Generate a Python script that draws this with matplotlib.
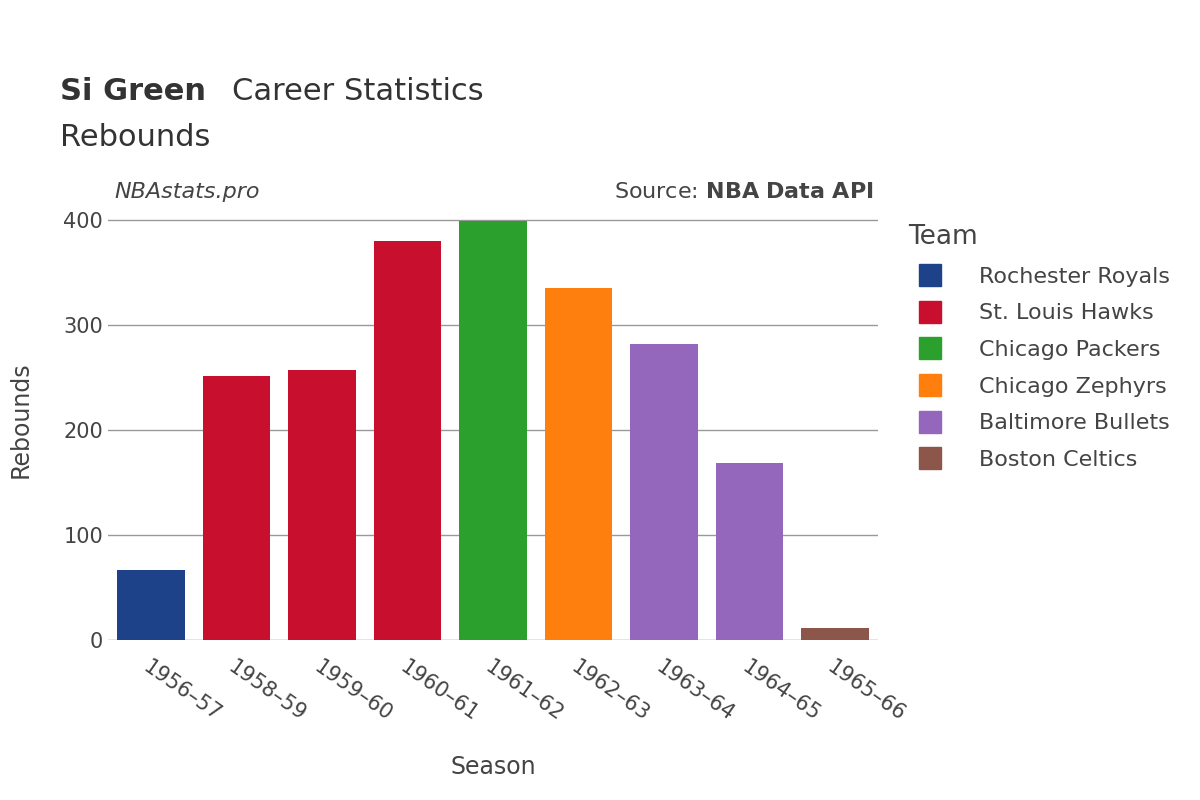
import matplotlib
matplotlib.use("Agg")
import matplotlib.pyplot as plt
from matplotlib.lines import Line2D

seasons = ["1956–57","1958–59","1959–60","1960–61","1961–62","1962–63","1963–64","1964–65","1965–66"]
rebounds = [67, 252, 257, 380, 399, 335, 282, 169, 11]
teams = ["Rochester Royals","St. Louis Hawks","St. Louis Hawks","St. Louis Hawks","Chicago Packers",
         "Chicago Zephyrs","Baltimore Bullets","Baltimore Bullets","Boston Celtics"]
team_order = ["Rochester Royals","St. Louis Hawks","Chicago Packers","Chicago Zephyrs","Baltimore Bullets","Boston Celtics"]
team_colors = {"Rochester Royals":"#1d428a","St. Louis Hawks":"#c8102e","Chicago Packers":"#2ca02c",
               "Chicago Zephyrs":"#ff7f0e","Baltimore Bullets":"#9467bd","Boston Celtics":"#8c564b"}

plt.rcParams["font.family"] = "DejaVu Sans"
fig = plt.figure(figsize=(12, 8), dpi=100)
ax = fig.add_axes([0.09, 0.2, 0.6417, 0.551])
x = range(len(seasons))
ax.bar(x, rebounds, width=0.79, color=[team_colors[t] for t in teams], zorder=3)
ax.set_xlim(-0.5, len(seasons) - 0.5)
ax.set_ylim(0, 420)
ax.set_yticks([0, 100, 200, 300, 400])
ax.grid(axis="y", color="#999999", linewidth=1, zorder=0)
for s in ax.spines.values():
    s.set_visible(False)
ax.axhline(0, color="#e5e5e5", linewidth=2, zorder=2)
ax.tick_params(axis="both", length=0, labelsize=15, labelcolor="#444444")
ax.set_xticks(list(x))
ax.set_xticklabels(seasons, rotation=-35, ha="left", rotation_mode="anchor")
ax.tick_params(axis="x", pad=12)
ax.set_xlabel("Season", fontsize=17, color="#444444", labelpad=22)
ax.set_ylabel("Rebounds", fontsize=17, color="#444444", labelpad=22)

fig.text(0.05, 0.875, "Si Green", fontsize=22, fontweight="bold", color="#333333")
fig.text(0.193, 0.875, "Career Statistics", fontsize=22, color="#333333")
fig.text(0.05, 0.818, "Rebounds", fontsize=22, color="#333333")
fig.text(0.095, 0.752, "NBAstats.pro", fontsize=16, style="italic", color="#444444")
fig.text(0.728, 0.752, "Source: $\\bf{NBA\\ Data\\ API}$", fontsize=16, color="#444444", ha="right")

handles = [Line2D([0], [0], marker="s", linestyle="", markersize=16, markerfacecolor=team_colors[t],
                  markeredgecolor=team_colors[t]) for t in team_order]
leg = fig.legend(handles, team_order, loc="upper left", bbox_to_anchor=(0.74, 0.745), frameon=False,
                 fontsize=16, title="Team", title_fontsize=19, labelspacing=0.75, handletextpad=1.2,
                 alignment="left")
for t in leg.get_texts():
    t.set_color("#444444")
leg.get_title().set_color("#444444")

fig.savefig("out.png", dpi=100)
